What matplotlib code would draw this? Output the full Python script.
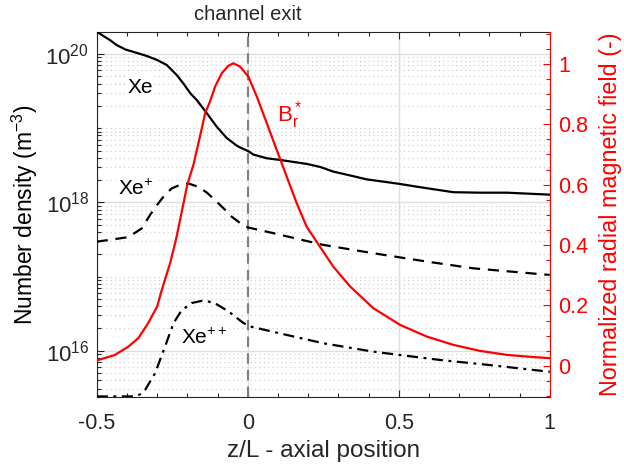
import matplotlib
matplotlib.use("Agg")
import matplotlib.pyplot as plt
from matplotlib.ticker import FixedLocator, MultipleLocator, LogFormatterSciNotation, NullFormatter
import matplotlib.transforms as mtransforms

plt.rcParams['font.family'] = ['Liberation Sans', 'DejaVu Sans']
plt.rcParams['mathtext.fontset'] = 'custom'
plt.rcParams['mathtext.rm'] = 'Liberation Sans'
plt.rcParams['mathtext.it'] = 'Liberation Sans'
plt.rcParams['mathtext.default'] = 'regular'

# ---- data ----
xe_z = [-0.50, -0.478, -0.456, -0.434, -0.405, -0.379, -0.334, -0.30, -0.268, -0.235,
        -0.213, -0.19, -0.169, -0.136, -0.103, -0.07, -0.036, -0.0255, 0.002, 0.019,
        0.063, 0.107, 0.195, 0.24, 0.283, 0.34, 0.394, 0.45, 0.504, 0.55, 0.593, 0.681,
        0.769, 0.858, 1.00]
xe_n = [2.0e20, 1.75e20, 1.54e20, 1.32e20, 1.15e20, 1.07e20, 9.4e19, 8.3e19, 7.1e19, 5.2e19,
        4.0e19, 2.95e19, 2.4e19, 1.6e19, 1.05e19, 7.4e18, 5.8e18, 5.5e18, 4.9e18, 4.4e18,
        3.93e18, 3.73e18, 3.3e18, 3.0e18, 2.6e18, 2.3e18, 2.04e18, 1.9e18, 1.77e18, 1.65e18,
        1.55e18, 1.37e18, 1.35e18, 1.35e18, 1.27e18]

xep_z = [-0.50, -0.45, -0.395, -0.351, -0.323, -0.296, -0.275, -0.252, -0.22, -0.197,
         -0.164, -0.135, -0.108, -0.08, -0.053, -0.015, 0.00, 0.085, 0.25, 0.416,
         0.593, 0.747, 1.00]
xep_n = [2.95e17, 3.15e17, 3.4e17, 4.45e17, 6.8e17, 9.7e17, 1.25e18, 1.54e18, 1.75e18, 1.8e18,
         1.62e18, 1.35e18, 1.07e18, 8.3e17, 6.4e17, 4.9e17, 4.6e17, 3.84e17, 2.67e17, 2.06e17,
         1.59e17, 1.29e17, 1.05e17]

xepp_z = [-0.50, -0.45, -0.373, -0.355, -0.34, -0.307, -0.274, -0.246, -0.219, -0.185,
          -0.152, -0.13, -0.108, -0.064, -0.02, 0.002, 0.107, 0.25, 0.416, 0.504, 0.637,
          0.802, 1.00]
xepp_n = [2.42e15, 2.42e15, 2.42e15, 2.6e15, 2.95e15, 4.95e15, 1.13e16, 2.34e16, 3.5e16, 4.4e16,
          4.7e16, 4.6e16, 4.35e16, 3.4e16, 2.46e16, 2.15e16, 1.71e16, 1.26e16, 9.7e15, 8.75e15,
          7.5e15, 6.4e15, 5.2e15]

br_z = [-0.50, -0.44, -0.395, -0.362, -0.33, -0.30, -0.285, -0.257, -0.246, -0.235, -0.20,
        -0.185, -0.18, -0.158, -0.141, -0.125, -0.108, -0.086, -0.065, -0.048, -0.025, 0.002,
        0.03, 0.063, 0.096, 0.129, 0.162, 0.195, 0.239, 0.283, 0.339, 0.416, 0.504, 0.593,
        0.681, 0.769, 0.858, 0.935, 1.00]
br_v = [0.018, 0.036, 0.064, 0.092, 0.141, 0.196, 0.25, 0.34, 0.384, 0.43, 0.60,
        0.649, 0.665, 0.76, 0.837, 0.875, 0.925, 0.969, 0.993, 1.002, 0.991, 0.958,
        0.892, 0.804, 0.715, 0.627, 0.539, 0.461, 0.395, 0.329, 0.263, 0.191, 0.136, 0.097,
        0.0695, 0.0497, 0.0364, 0.030, 0.0255]

x_major = [-0.5, 0, 0.5, 1]
x_labels = ['-0.5', '0', '0.5', '1']
y_major = [1e16, 1e18, 1e20]
r_major = [0, 0.2, 0.4, 0.6, 0.8, 1]
r_labels = ['0', '0.2', '0.4', '0.6', '0.8', '1']

dark = '#262626'
red = '#ff0000'

fig = plt.figure(figsize=(6.24, 4.68), dpi=100)
ax = fig.add_axes([0.155, 0.1524, 0.726, 0.7782])
ax2 = ax.twinx()

ax.set_yscale('log')
ax.set_xlim(-0.5, 1.0)
ax.set_ylim(2.4e15, 1.95e20)
ax2.set_ylim(-0.102, 1.104)

ax.set_xticks(x_major)
ax.set_xticklabels(x_labels)
ax.xaxis.set_minor_locator(MultipleLocator(0.1))
ax.yaxis.set_major_locator(FixedLocator(y_major))
minors = [m * 10.0 ** e for e in range(14, 21) for m in range(1, 10) if not (m == 1 and e % 2 == 0)]
ax.yaxis.set_minor_locator(FixedLocator(minors))
ax.yaxis.set_major_formatter(LogFormatterSciNotation())
ax.yaxis.set_minor_formatter(NullFormatter())
ax.grid(which='major', axis='both', color='#dedede', lw=1.0, zorder=0)
ax.grid(which='minor', axis='y', color='#d2d2d2', lw=0.9, ls=(0, (1, 2.5)), zorder=0)
ax.set_axisbelow(True)

ax.axvline(0, color='#808080', lw=1.5, ls=(0, (5, 3)), zorder=1)

ax.plot(xe_z, xe_n, color='black', lw=1.6, zorder=3)
ax.plot(xep_z, xep_n, color='black', lw=1.6, ls=(0, (5, 3.5)), zorder=3)
ax.plot(xepp_z, xepp_n, color='black', lw=1.6, ls=(0, (5, 2.5, 1.3, 2.5)), zorder=3)
ax2.plot(br_z, br_v, color=red, lw=1.6, zorder=3)

bb = dict(facecolor='white', edgecolor='none', pad=1.5)
ax.text(-0.355, 3.5e19, 'Xe', fontsize=15, color='black', ha='center', va='center', bbox=bb, zorder=2)
ax.text(-0.37, 1.5e18, r'Xe$^{+}$', fontsize=15, color='black', ha='center', va='center', bbox=bb, zorder=2)
ax.text(-0.145, 1.48e16, r'Xe$^{++}$', fontsize=15, color='black', ha='center', va='center', bbox=bb, zorder=2)
ax2.text(0.14, 0.83, r'B$_r^*$', fontsize=16, color=red, ha='center', va='center')

trans = mtransforms.blended_transform_factory(ax.transData, ax.transAxes)
ax.text(0, 1.022, 'channel exit', transform=trans, fontsize=14.5, color=dark, ha='center', va='bottom')

ax.tick_params(which='both', direction='in', top=True, right=False, colors=dark)
ax.tick_params(which='major', length=5, width=0.8)
ax.tick_params(which='minor', length=3, width=0.8)
ax.tick_params(axis='x', labelsize=15.5, pad=12)
ax.tick_params(axis='y', labelsize=16, pad=5.5)
for s in ['left', 'bottom', 'top']:
    ax.spines[s].set_color(dark)
ax.spines['right'].set_visible(False)

ax2.set_yticks(r_major)
ax2.set_yticklabels(r_labels)
ax2.yaxis.set_minor_locator(MultipleLocator(0.05))
ax2.tick_params(which='both', direction='in', colors=red, labelsize=15.5, pad=6)
ax2.tick_params(which='major', length=5, width=0.8)
ax2.tick_params(which='minor', length=3, width=0.8)
ax2.spines['right'].set_color(red)
for s in ['left', 'bottom', 'top']:
    ax2.spines[s].set_visible(False)

ax.set_xlabel('z/L - axial position', fontsize=17.5, color=dark, labelpad=4)
ax.set_ylabel(r'Number density (m$^{-3}$)', fontsize=16.5, color='black', labelpad=4)
ax2.set_ylabel('Normalized radial magnetic field (-)', fontsize=16.8, color=red, labelpad=8)

fig.savefig('out.png', dpi=100)
